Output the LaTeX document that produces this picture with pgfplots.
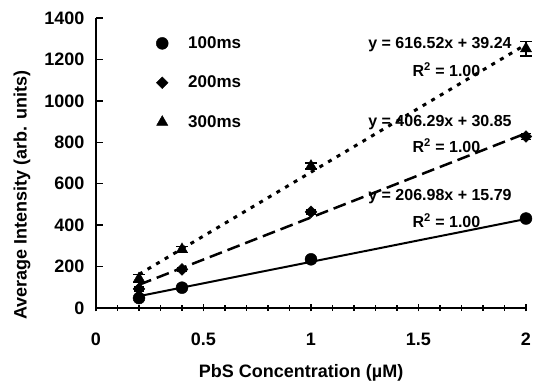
\documentclass[border=0pt]{standalone}
\usepackage{pgfplots}
\pgfplotsset{compat=1.18}
\usepackage{fontspec}
\setmainfont{Liberation Sans}
\newcommand{\lblfont}{\fontsize{18}{21}\selectfont\bfseries}
\newcommand{\legfont}{\fontsize{17}{20}\selectfont\bfseries}
\newcommand{\eqfont}{\fontsize{16}{19}\selectfont\bfseries}
\begin{document}
\begin{tikzpicture}
\useasboundingbox (-96pt,-74pt) rectangle (443pt,308pt);
\begin{axis}[
  at={(0pt,0pt)}, anchor=origin,
  scale only axis, width=430pt, height=290pt,
  xmin=0, xmax=2, ymin=0, ymax=1400,
  clip=false,
  axis lines*=left,
  axis line style={line width=1.5pt},
  xtick={0,0.5,1,1.5,2}, minor x tick num=4,
  ytick={0,200,...,1400},
  xtick align=center, ytick align=inside,
  major tick length=7pt, minor tick length=6pt,
  every tick/.style={line width=1.3pt, black},
  /pgf/number format/assume math mode=true,
  /pgf/number format/1000 sep={},
  ticklabel style={font=\lblfont},
  yticklabel style={xshift=-8pt},
  xticklabel style={yshift=-18pt},
  every axis y label/.style={at={(axis description cs:-0.172,0.39)}, rotate=90, anchor=center, font=\lblfont},
  every axis x label/.style={at={(axis description cs:0.477,-0.222)}, anchor=center, font=\lblfont},
  ylabel={Average Intensity (arb. units)},
  xlabel={PbS Concentration (µM)},
  legend style={at={(axis description cs:0.135,0.95)}, anchor=north west, draw=none, fill=none, font=\legfont, row sep=22pt, inner sep=2pt},
  legend cell align=left,
  legend image code/.code={\path[draw=none,fill=none] (0pt,-6pt) rectangle (30pt,6pt); \draw[#1] plot coordinates {(6pt,0pt)};},
]
% trendlines (from fitted equations, x = 0.2 .. 2)
\addplot[forget plot, black, line width=2pt] coordinates {(0.2,57.2) (2,429.75)};
\addplot[forget plot, black, line width=2.5pt, dash pattern=on 13pt off 6pt] coordinates {(0.2,112.1) (2,843.4)};
\addplot[forget plot, black, line width=3pt, dash pattern=on 4pt off 6pt] coordinates {(0.2,162.5) (2,1272.3)};
% data
\addplot[black, only marks, mark=*, mark size=6pt,
  error bars/.cd, y dir=both, y explicit, error bar style={line width=1.5pt}, error mark options={rotate=90, mark size=5pt, line width=1.5pt}]
  coordinates {(0.2,48) +- (0,5) (0.4,98) +- (0,5) (1,235) +- (0,6) (2,432) +- (0,10)};
\addlegendentry{100ms}
\addplot[black, only marks, mark=square*, mark size=4.2pt, mark options={rotate=45},
  error bars/.cd, y dir=both, y explicit, error bar style={line width=1.5pt}, error mark options={rotate=90, mark size=5pt, line width=1.5pt}]
  coordinates {(0.2,92) +- (0,10) (0.4,186) +- (0,10) (1,464) +- (0,10) (2,828) +- (0,15)};
\addlegendentry{200ms}
\addplot[black, only marks, mark=triangle*, mark size=6.5pt,
  error bars/.cd, y dir=both, y explicit, error bar style={line width=1.5pt}, error mark options={rotate=90, mark size=6pt, line width=1.5pt}]
  coordinates {(0.2,142) +- (0,20) (0.4,283) +- (0,15) (1,685) +- (0,15) (2,1252) +- (0,35)};
\addlegendentry{300ms}
\node[font=\eqfont] at (axis cs:1.6,1270) {y = 616.52x + 39.24};
\node[font=\eqfont] at (axis cs:1.63,1149) {R\textsuperscript{2} = 1.00};
\node[font=\eqfont] at (axis cs:1.6,893) {y = 406.29x + 30.85};
\node[font=\eqfont] at (axis cs:1.63,782) {R\textsuperscript{2} = 1.00};
\node[font=\eqfont] at (axis cs:1.6,536) {y = 206.98x + 15.79};
\node[font=\eqfont] at (axis cs:1.63,420) {R\textsuperscript{2} = 1.00};
\end{axis}
\end{tikzpicture}
\end{document}
